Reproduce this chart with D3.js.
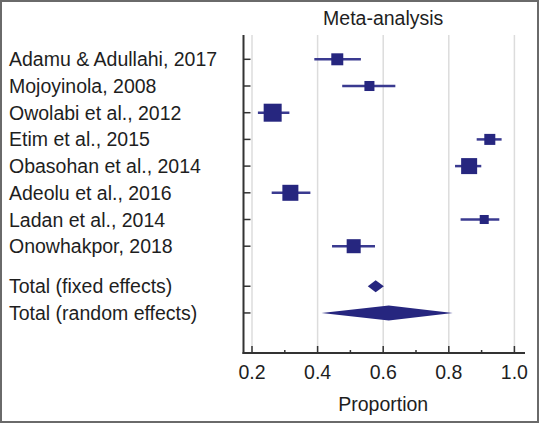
<!DOCTYPE html>
<html><head><meta charset="utf-8">
<script src="https://cdn.jsdelivr.net/npm/d3@7"></script>
<style>
html,body{margin:0;padding:0;background:#fff;}
text{font-family:"Liberation Sans",Arial,sans-serif;fill:#1e1e1e;}
</style></head>
<body>
<svg id="chart" width="539" height="423"></svg>
<script>
// ---- data ----
const studies = ["Adamu & Adullahi, 2017","Mojoyinola, 2008","Owolabi et al., 2012","Etim et al., 2015","Obasohan et al., 2014","Adeolu et al., 2016","Ladan et al., 2014","Onowhakpor, 2018"];
const estimate = [0.460, 0.558, 0.263, 0.925, 0.862, 0.317, 0.908, 0.510];
const lower    = [0.390, 0.475, 0.218, 0.885, 0.819, 0.260, 0.836, 0.444];
const upper    = [0.532, 0.637, 0.314, 0.961, 0.899, 0.378, 0.954, 0.575];
const weight   = [9.7, 6.8, 21.9, 8.2, 17.3, 17.3, 5.5, 13.3];
const totals      = ["Total (fixed effects)","Total (random effects)"];
const totalEst    = [0.577, 0.617];
const totalLower  = [0.553, 0.412];
const totalUpper  = [0.602, 0.812];
const xTicks = [0.2, 0.4, 0.6, 0.8, 1.0];
const xMinorTicks = [0.3, 0.5, 0.7, 0.9];
const title = "Meta-analysis";
const xLabel = "Proportion";

// ---- layout ----
const svg = d3.select("#chart");
const W = 539, H = 423;
const navy = "#26267f";
const fs = 19.5;
const axisX = 243.5, axisTop = 35, axisBottom = 353, axisRight = 525;

svg.append("rect").attr("x",1).attr("y",1).attr("width",W-2).attr("height",H-2)
  .attr("fill","#fff").attr("stroke","#6a6a6a").attr("stroke-width",2);

const x = d3.scaleLinear().domain([0.2,1.0]).range([252,514.4]);
// row positions: studies 0..7, totals after a gap
const rowPos = studies.map((d,i)=>i).concat([8.5, 9.5]);
const y = d3.scaleLinear().domain([0, 11]).range([59.3, 353]);
const size = d3.scaleSqrt().domain([0, d3.max(weight)]).range([0, 18]);

// gridlines
svg.append("g").selectAll("line").data(xTicks).join("line")
  .attr("x1",d=>x(d)).attr("x2",d=>x(d)).attr("y1",axisTop).attr("y2",axisBottom)
  .attr("stroke","#dcdcdc").attr("stroke-width",1.5);

// title
svg.append("text").attr("x",(x(0.2)+x(1.0))/2).attr("y",25).attr("text-anchor","middle")
  .attr("font-size",fs).text(title);

// axes lines
svg.append("line").attr("x1",axisX).attr("x2",axisX).attr("y1",axisTop).attr("y2",axisBottom+1)
  .attr("stroke","#333").attr("stroke-width",2);
svg.append("line").attr("x1",axisX-1).attr("x2",axisRight).attr("y1",axisBottom).attr("y2",axisBottom)
  .attr("stroke","#333").attr("stroke-width",2);

// y ticks
svg.append("g").selectAll("line").data(rowPos).join("line")
  .attr("x1",axisX).attr("x2",axisX+7).attr("y1",d=>y(d)).attr("y2",d=>y(d))
  .attr("stroke","#333").attr("stroke-width",1.5);

// x ticks
svg.append("g").selectAll("line").data(xTicks).join("line")
  .attr("x1",d=>x(d)).attr("x2",d=>x(d)).attr("y1",axisBottom).attr("y2",axisBottom-7)
  .attr("stroke","#333").attr("stroke-width",1.5);
svg.append("g").selectAll("line").data(xMinorTicks).join("line")
  .attr("x1",d=>x(d)).attr("x2",d=>x(d)).attr("y1",axisBottom).attr("y2",axisBottom-3)
  .attr("stroke","#333").attr("stroke-width",1.5);
svg.append("g").selectAll("text").data(xTicks).join("text")
  .attr("x",d=>x(d)).attr("y",378.5).attr("text-anchor","middle").attr("font-size",fs)
  .text(d=>d3.format(".1f")(d));
svg.append("text").attr("x",(x(0.2)+x(1.0))/2).attr("y",411).attr("text-anchor","middle")
  .attr("font-size",fs).text(xLabel);

// row labels
const labels = studies.concat(totals);
svg.append("g").selectAll("text").data(labels).join("text")
  .attr("x",9).attr("y",(d,i)=>y(rowPos[i])).attr("dy","0.36em").attr("font-size",fs)
  .text(d=>d);

// CI lines
const gStudy = svg.append("g");
gStudy.selectAll("line").data(studies).join("line")
  .attr("x1",(d,i)=>x(lower[i])).attr("x2",(d,i)=>x(upper[i]))
  .attr("y1",(d,i)=>y(rowPos[i])).attr("y2",(d,i)=>y(rowPos[i]))
  .attr("stroke","#3a3a90").attr("stroke-width",2.5);
gStudy.selectAll("rect").data(studies).join("rect")
  .attr("x",(d,i)=>x(estimate[i])-size(weight[i])/2)
  .attr("y",(d,i)=>y(rowPos[i])-size(weight[i])/2)
  .attr("width",(d,i)=>size(weight[i])).attr("height",(d,i)=>size(weight[i]))
  .attr("fill",navy);

// diamonds
const diamondH = [12, 15];
svg.append("g").selectAll("path").data(totals).join("path")
  .attr("d",(d,i)=>{
    const cy = y(rowPos[8+i]), h = diamondH[i]/2;
    return `M${x(totalLower[i])},${cy}L${x(totalEst[i])},${cy-h}L${x(totalUpper[i])},${cy}L${x(totalEst[i])},${cy+h}Z`;
  })
  .attr("fill",navy);
</script>
</body></html>
